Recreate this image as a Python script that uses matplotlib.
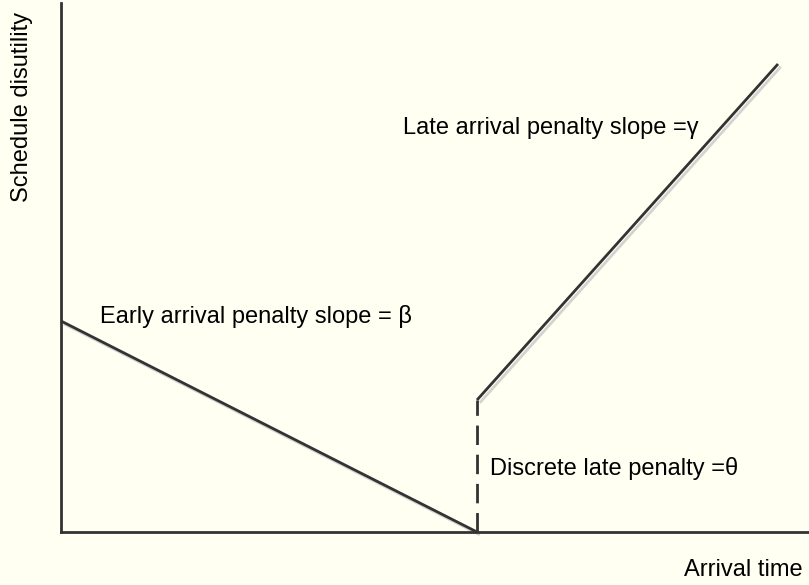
import numpy as np
import matplotlib.pyplot as plt
import matplotlib.patheffects as pe

plt.rcParams['font.family'] = ['Liberation Sans', 'DejaVu Sans']

# piecewise schedule delay cost, arbitrary units
early_t = [0, 416]
early_cost = [211, 0]
late_t = [416, 717]
late_cost = [132, 468]
jump_t = [416, 416]
jump_cost = [0, 132]

x_max = 748
y_max = 529

ink = '#333333'
bg = '#fffff2'

fig = plt.figure(figsize=(8.09, 5.85), dpi=100, facecolor=bg)
ax = fig.add_axes([61 / 809, 53 / 585, 748 / 809, 529 / 585])
ax.set_facecolor(bg)
ax.set_xlim(0, x_max)
ax.set_ylim(0, y_max)

shadow = [pe.SimpleLineShadow(offset=(2, -2), shadow_color='#c8c8c8', alpha=0.8), pe.Normal()]

ax.plot(early_t, early_cost, color=ink, lw=2.0, solid_capstyle='butt', path_effects=shadow, clip_on=False)
ax.plot(late_t, late_cost, color=ink, lw=2.0, solid_capstyle='butt', path_effects=shadow, clip_on=False)
ax.plot(jump_t, jump_cost, color=ink, lw=2.0, ls=(0, (7, 3.5)), clip_on=False)

for s in ['top', 'right']:
    ax.spines[s].set_visible(False)
for s in ['left', 'bottom']:
    ax.spines[s].set_color(ink)
    ax.spines[s].set_linewidth(2.0)
ax.set_xticks([])
ax.set_yticks([])

fsz = 17
ax.text(39, 215, 'Early arrival penalty slope = β', fontsize=fsz, color='black', va='center')
ax.text(342, 404, 'Late arrival penalty slope =γ', fontsize=fsz, color='black', va='center')
ax.text(429, 64, 'Discrete late penalty =θ', fontsize=fsz, color='black', va='center')

fig.text(803 / 809, 1 - 570 / 585, 'Arrival time', fontsize=fsz, ha='right', va='center')
fig.text(22 / 809, 1 - 107 / 585, 'Schedule disutility', fontsize=fsz, rotation=90, ha='center', va='center')

fig.savefig('out.png', dpi=100, facecolor=bg)
